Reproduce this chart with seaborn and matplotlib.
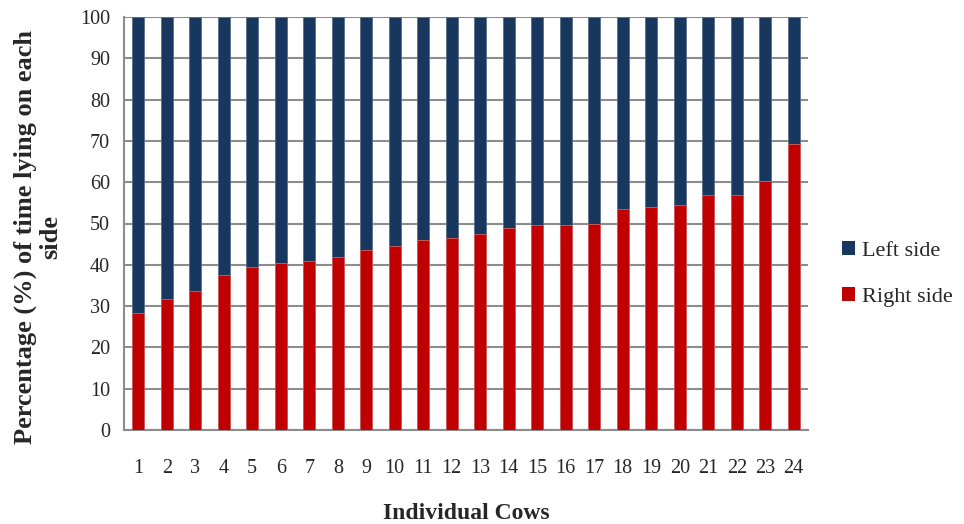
import matplotlib
matplotlib.use("Agg")
import matplotlib.pyplot as plt
from matplotlib.patches import Patch
from matplotlib.ticker import FixedLocator
import numpy as np
import pandas as pd
import seaborn as sns

# Share of lying time per cow (%), right side; left side is the remainder to 100
cows = [str(i) for i in range(1, 25)]
right_side = [28.3, 31.8, 33.7, 37.6, 39.4, 40.5, 40.8, 42.0, 43.7, 44.6, 45.9, 46.4,
              47.4, 48.8, 49.6, 49.6, 50.0, 53.6, 53.9, 54.6, 56.8, 56.8, 60.4, 69.2]
left_side = [round(100 - r, 1) for r in right_side]
series_names = ["Left side", "Right side"]
y_ticks = list(range(0, 101, 10))

LEFT_COLOR = "#17375E"
RIGHT_COLOR = "#C00000"
GRID_COLOR = "#8C8C8C"

df = pd.DataFrame({"cow": cows, "right": right_side, "left": left_side})
df["total"] = df["right"] + df["left"]

sns.set_style("white")
plt.rcParams["font.family"] = ["Liberation Serif", "DejaVu Serif"]

fig = plt.figure(figsize=(9.64, 5.24), dpi=100)
ax = fig.add_axes([124 / 964, 1 - 430 / 524, (808 - 124) / 964, (430 - 17) / 524])

# Stacked bars: full stack (left on top) first, then the right-side portion
sns.barplot(data=df, x="cow", y="total", color=LEFT_COLOR, width=0.42,
            saturation=1, edgecolor="#5A6F8A", linewidth=0.6, ax=ax, zorder=3)
sns.barplot(data=df, x="cow", y="right", color=RIGHT_COLOR, width=0.42,
            saturation=1, edgecolor="#D86060", linewidth=0.6, ax=ax, zorder=4)

ax.set_ylim(0, 100)
ax.set_xlim(-0.5, len(cows) - 0.5)
ax.set_yticks(y_ticks)
ax.set_yticklabels([str(t) for t in y_ticks], fontsize=14.5)
ax.yaxis.grid(True, color=GRID_COLOR, linewidth=1.5, zorder=0)
ax.set_axisbelow(True)

# Category labels centered, tick marks at the category boundaries
ax.set_xticks(range(len(cows)))
ax.set_xticklabels(cows, fontsize=14.5)
ax.tick_params(axis="x", which="major", length=0, pad=21)
ax.xaxis.set_minor_locator(FixedLocator(np.arange(-0.5, len(cows), 1.0)))
ax.tick_params(axis="x", which="minor", length=6, width=1.2, color=GRID_COLOR, direction="out")
ax.tick_params(axis="y", length=6, width=1.2, color=GRID_COLOR, direction="out", pad=4)

for side in ("top", "right"):
    ax.spines[side].set_visible(False)
for side in ("left", "bottom"):
    ax.spines[side].set_color(GRID_COLOR)
    ax.spines[side].set_linewidth(1.5)

ax.set_xlabel("Individual Cows", fontsize=17, fontweight="bold", labelpad=18)
ax.set_ylabel("")
fig.text(38 / 964, 1 - 237 / 524, "Percentage (%) of time lying on each\nside",
         rotation=90, ha="center", va="center", fontsize=19, fontweight="bold",
         linespacing=1.1, multialignment="center")

handles = [Patch(facecolor=LEFT_COLOR, edgecolor="none"),
           Patch(facecolor=RIGHT_COLOR, edgecolor="none")]
fig.legend(handles, series_names, loc="center left", bbox_to_anchor=(822 / 964, 1 - 274 / 524),
           frameon=False, fontsize=16, handlelength=0.6, handleheight=0.6,
           handletextpad=0.3, labelspacing=1.2)

fig.savefig("out.png", dpi=100)
